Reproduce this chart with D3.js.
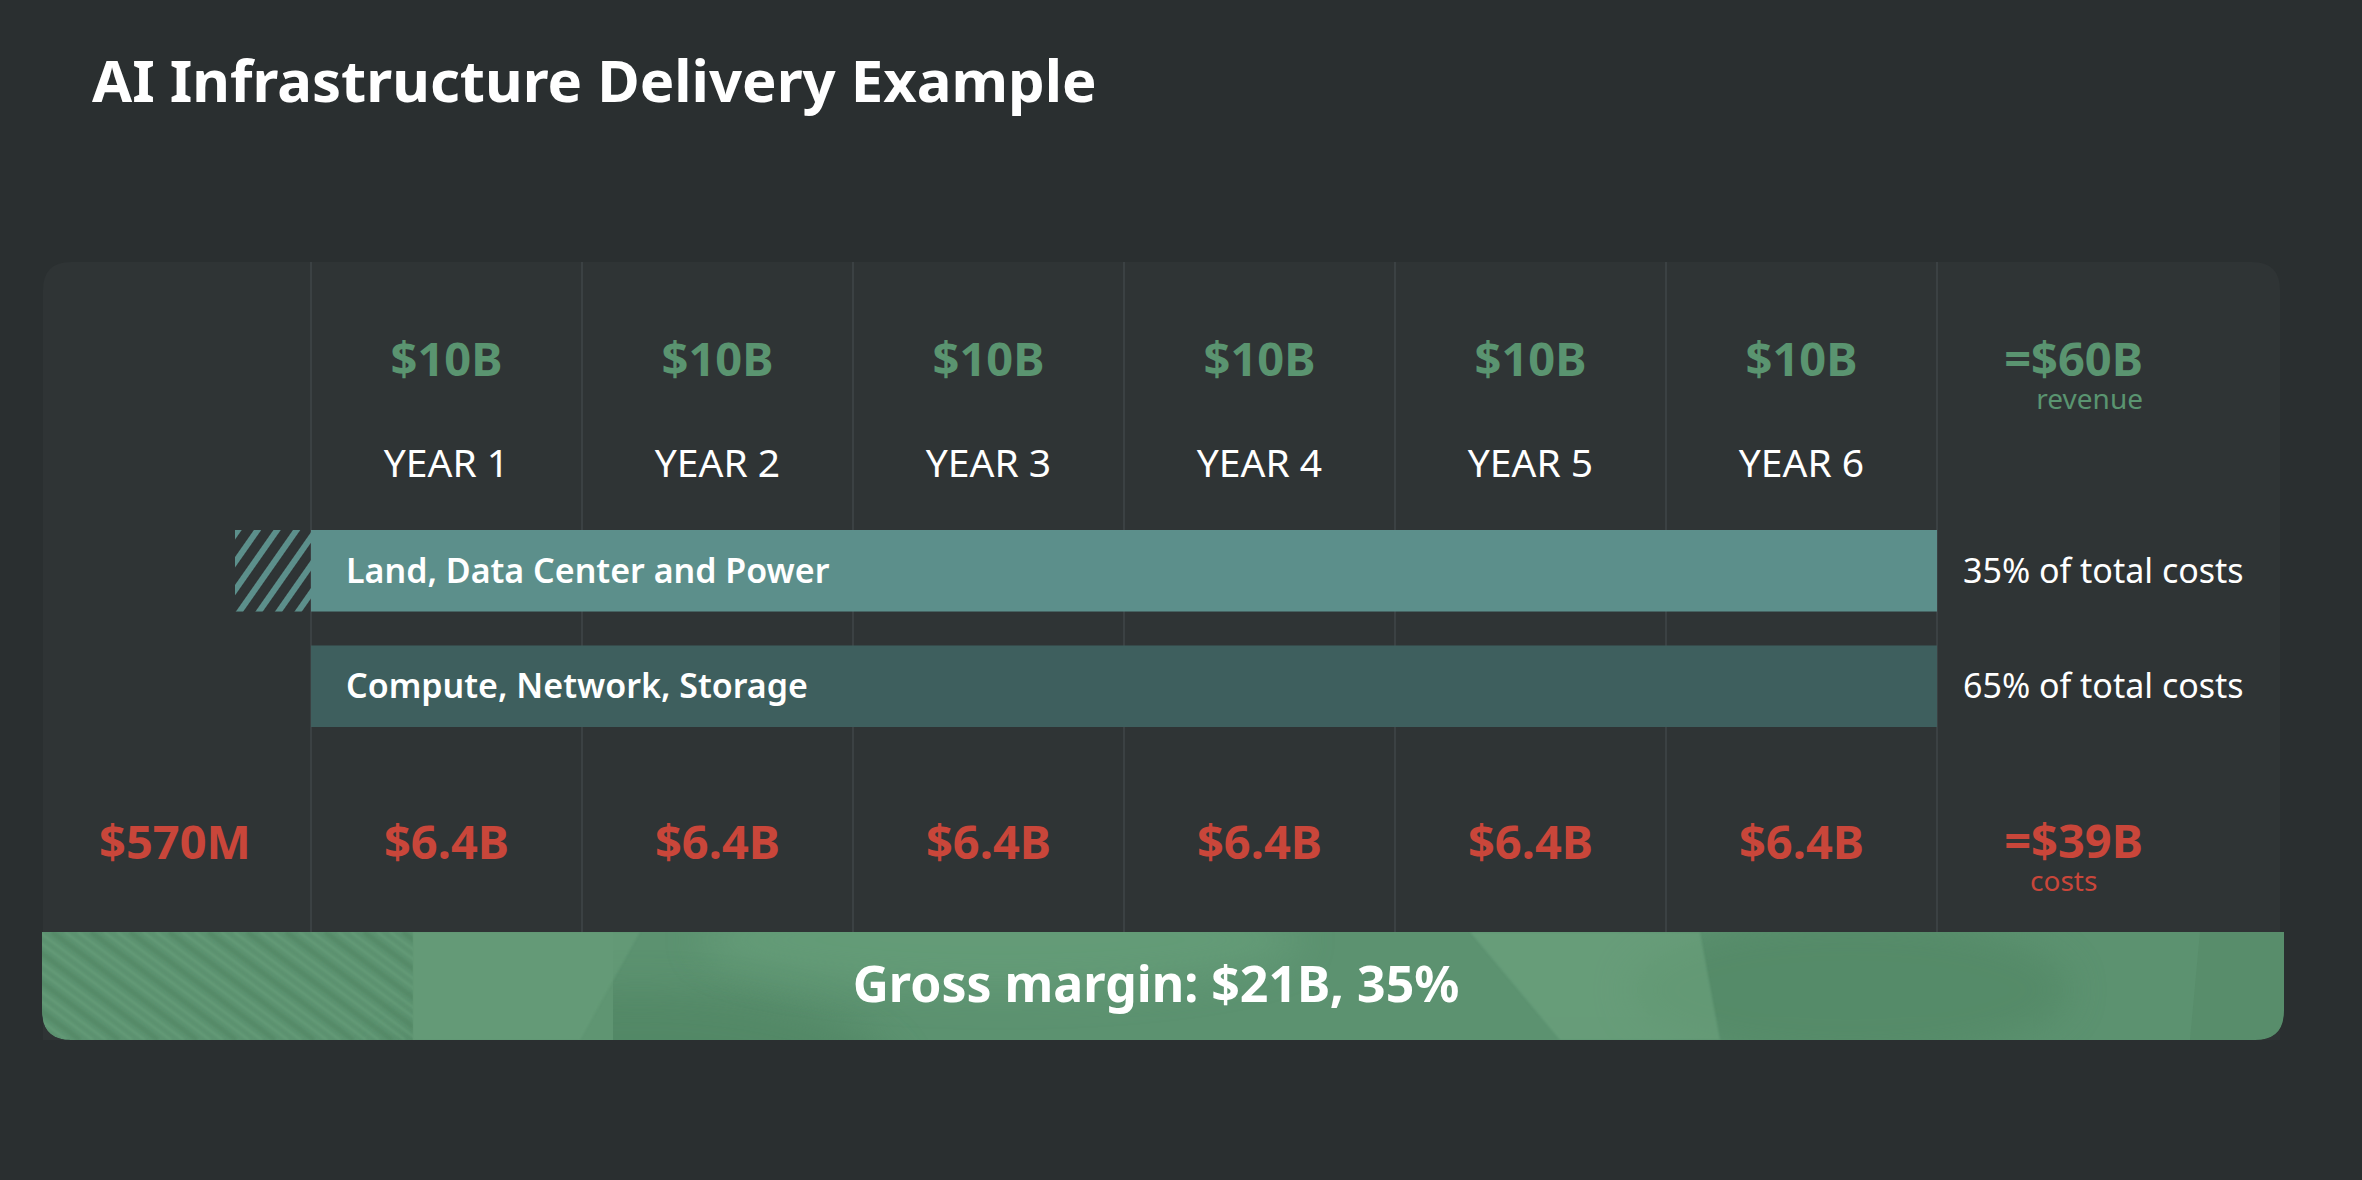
<!DOCTYPE html>
<html>
<head>
<meta charset="utf-8">
<script src="https://cdn.jsdelivr.net/npm/d3@7"></script>
<style>
  html, body { margin: 0; padding: 0; background: #2a2f30; }
  svg { display: block; }
  text { font-family: "Noto Sans", "Open Sans", sans-serif; }
</style>
</head>
<body>
<svg width="2362" height="1180"></svg>
<script>
// ---- data ----
var title        = 'AI Infrastructure Delivery Example',
    years        = ['YEAR 1', 'YEAR 2', 'YEAR 3', 'YEAR 4', 'YEAR 5', 'YEAR 6'],
    revenue      = [10, 10, 10, 10, 10, 10],        // $B per year
    costs        = [6.4, 6.4, 6.4, 6.4, 6.4, 6.4],  // $B per year
    preCost      = 0.57,                            // $B before year 1
    revenueTotal = 60,
    costTotal    = 39,
    costGroups   = ['Land, Data Center and Power', 'Compute, Network, Storage'],
    costShares   = [35, 65],                        // % of total costs
    marginValue  = 21,
    marginPct    = 35;

// ---- layout ----
var width   = 2362,
    height  = 1180,
    panelL  = 43,
    panelR  = 2280,
    panelT  = 262,
    bandT   = 932,
    bandB   = 1040,
    rad     = 28,
    green   = '#5a9470',
    red     = '#c9463a',
    land    = '#5c8f8b',
    compute = '#3e5f5e',
    svg     = d3.select('svg');

var x = d3.scaleBand().domain(years).range([311, 1937]);
var y = d3.scaleBand().domain(costGroups).range([530, 727]).paddingInner(0.294);

var fmtB = function(v) { return v < 1 ? '$' + Math.round(v * 1000) + 'M' : '$' + v + 'B'; };

var defs = svg.append('defs');

var hatch = defs.append('pattern')
    .attr('id', 'hatch')
    .attr('patternUnits', 'userSpaceOnUse')
    .attr('width', 16).attr('height', 16)
    .attr('patternTransform', 'rotate(35)');
hatch.append('rect').attr('width', 6).attr('height', 16).attr('fill', land);

defs.append('filter').attr('id', 'blur')
    .attr('x', '-50%').attr('y', '-50%').attr('width', '200%').attr('height', '200%')
  .append('feGaussianBlur').attr('stdDeviation', 18);

defs.append('filter').attr('id', 'soft')
  .append('feGaussianBlur').attr('stdDeviation', 1.2);

// ---- title ----
svg.append('text')
    .attr('x', 92).attr('y', 102)
    .attr('font-size', 58).attr('font-weight', 700)
    .attr('fill', '#fff')
    .text(title);

// ---- panel ----
svg.append('path')
    .attr('d', 'M' + panelL + ',' + bandB +
        'V' + (panelT + rad) + 'Q' + panelL + ',' + panelT + ' ' + (panelL + rad) + ',' + panelT +
        'H' + (panelR - rad) + 'Q' + panelR + ',' + panelT + ' ' + panelR + ',' + (panelT + rad) +
        'V' + bandB + 'Z')
    .attr('fill', '#2f3435');

// column separators
var edges = years.map(function(d) { return x(d); }).concat([x.range()[1]]);
svg.append('g').selectAll('line').data(edges).enter().append('line')
    .attr('x1', function(d) { return d; }).attr('x2', function(d) { return d; })
    .attr('y1', panelT).attr('y2', bandT)
    .attr('stroke', '#3b4143').attr('stroke-width', 2);

// revenue row
svg.append('g').selectAll('text').data(revenue).enter().append('text')
    .attr('x', function(d, i) { return x(years[i]) + x.bandwidth() / 2; })
    .attr('y', 376)
    .attr('text-anchor', 'middle')
    .attr('font-size', 47).attr('font-weight', 700)
    .attr('fill', green)
    .text(fmtB);

svg.append('text')
    .attr('x', 2143).attr('y', 376)
    .attr('text-anchor', 'end')
    .attr('font-size', 47).attr('font-weight', 700)
    .attr('fill', green)
    .text('=' + fmtB(revenueTotal));

svg.append('text')
    .attr('x', 2143).attr('y', 409)
    .attr('text-anchor', 'end')
    .attr('font-size', 28)
    .attr('fill', green)
    .text('revenue');

// year labels
svg.append('g').selectAll('text').data(years).enter().append('text')
    .attr('x', function(d) { return x(d) + x.bandwidth() / 2; })
    .attr('y', 477)
    .attr('text-anchor', 'middle')
    .attr('font-size', 39)
    .attr('fill', '#fff')
    .text(function(d) { return d; });

// cost bars
var x0 = x.range()[0], x1 = x.range()[1];

svg.append('rect')
    .attr('x', x0 - 76).attr('y', y(costGroups[0]))
    .attr('width', 76).attr('height', y.bandwidth())
    .attr('fill', 'url(#hatch)');

var bars = svg.append('g').selectAll('g').data(costGroups).enter().append('g');

bars.append('rect')
    .attr('x', x0).attr('y', function(d) { return y(d); })
    .attr('width', x1 - x0).attr('height', y.bandwidth())
    .attr('fill', function(d, i) { return i === 0 ? land : compute; });

bars.append('text')
    .attr('x', x0 + 35)
    .attr('y', function(d) { return y(d) + y.bandwidth() / 2 + 12; })
    .attr('font-size', 34).attr('font-weight', 600)
    .attr('fill', '#fff')
    .text(function(d) { return d; });

bars.append('text')
    .attr('x', 1963)
    .attr('y', function(d) { return y(d) + y.bandwidth() / 2 + 12; })
    .attr('font-size', 34)
    .attr('fill', '#fff')
    .text(function(d, i) { return costShares[i] + '% of total costs'; });

// cost row
svg.append('text')
    .attr('x', (panelL + x0) / 2 - 2).attr('y', 859)
    .attr('text-anchor', 'middle')
    .attr('font-size', 47).attr('font-weight', 700)
    .attr('fill', red)
    .text(fmtB(preCost));

svg.append('g').selectAll('text').data(costs).enter().append('text')
    .attr('x', function(d, i) { return x(years[i]) + x.bandwidth() / 2; })
    .attr('y', 859)
    .attr('text-anchor', 'middle')
    .attr('font-size', 47).attr('font-weight', 700)
    .attr('fill', red)
    .text(fmtB);

svg.append('text')
    .attr('x', 2143).attr('y', 858)
    .attr('text-anchor', 'end')
    .attr('font-size', 47).attr('font-weight', 700)
    .attr('fill', red)
    .text('=' + fmtB(costTotal));

svg.append('text')
    .attr('x', 2030).attr('y', 891)
    .attr('font-size', 28)
    .attr('fill', red)
    .text('costs');

// ---- gross margin band ----
var bandL = 42, bandR = 2284, br = 29;
var bandPath = 'M' + bandL + ',' + bandT + 'H' + bandR +
    'V' + (bandB - br) + 'Q' + bandR + ',' + bandB + ' ' + (bandR - br) + ',' + bandB +
    'H' + (bandL + br) + 'Q' + bandL + ',' + bandB + ' ' + bandL + ',' + (bandB - br) + 'Z';

defs.append('clipPath').attr('id', 'bandClip').append('path').attr('d', bandPath);

var band = svg.append('g').attr('clip-path', 'url(#bandClip)');

band.append('path').attr('d', bandPath).attr('fill', '#5c9270');

// texture: soft light and dark patches
band.append('ellipse').attr('cx', 640).attr('cy', 1080).attr('rx', 260).attr('ry', 90)
    .attr('fill', '#4e8261').attr('opacity', 0.6).attr('filter', 'url(#blur)');
band.append('ellipse').attr('cx', 1000).attr('cy', 940).attr('rx', 300).attr('ry', 50)
    .attr('fill', '#6ca47f').attr('opacity', 0.5).attr('filter', 'url(#blur)');
band.append('ellipse').attr('cx', 1850).attr('cy', 990).attr('rx', 220).attr('ry', 70)
    .attr('fill', '#4f8462').attr('opacity', 0.5).attr('filter', 'url(#blur)');
band.append('polygon')
    .attr('points', '1470,' + bandT + ' 1700,' + bandT + ' 1720,' + bandB + ' 1560,' + bandB)
    .attr('fill', '#74aa85').attr('opacity', 0.45).attr('filter', 'url(#soft)');
band.append('polygon')
    .attr('points', '2200,' + bandT + ' ' + bandR + ',' + bandT + ' ' + bandR + ',' + bandB + ' 2190,' + bandB)
    .attr('fill', '#4f8462').attr('opacity', 0.35);

// streaks on the left part
var streaks = band.append('g').attr('filter', 'url(#soft)');
streaks.selectAll('line').data(d3.range(-260, 420, 13)).enter().append('line')
    .attr('x1', function(d) { return d; }).attr('y1', bandT)
    .attr('x2', function(d) { return d + 145; }).attr('y2', bandB)
    .attr('stroke', function(d, i) { return i % 3 === 0 ? '#4e8361' : '#72a984'; })
    .attr('stroke-width', function(d, i) { return i % 3 === 0 ? 5 : 2; })
    .attr('opacity', 0.5);
band.append('rect').attr('x', 413).attr('y', bandT).attr('width', 200).attr('height', bandB - bandT)
    .attr('fill', '#5f9572');
band.append('polygon')
    .attr('points', '413,' + bandT + ' 640,' + bandT + ' 580,' + bandB + ' 413,' + bandB)
    .attr('fill', '#6aa07d').attr('opacity', 0.5).attr('filter', 'url(#soft)');

band.append('text')
    .attr('x', 1156).attr('y', 1002)
    .attr('text-anchor', 'middle')
    .attr('font-size', 50).attr('font-weight', 700)
    .attr('fill', '#fff')
    .text('Gross margin: ' + fmtB(marginValue) + ', ' + marginPct + '%');
</script>
</body>
</html>
